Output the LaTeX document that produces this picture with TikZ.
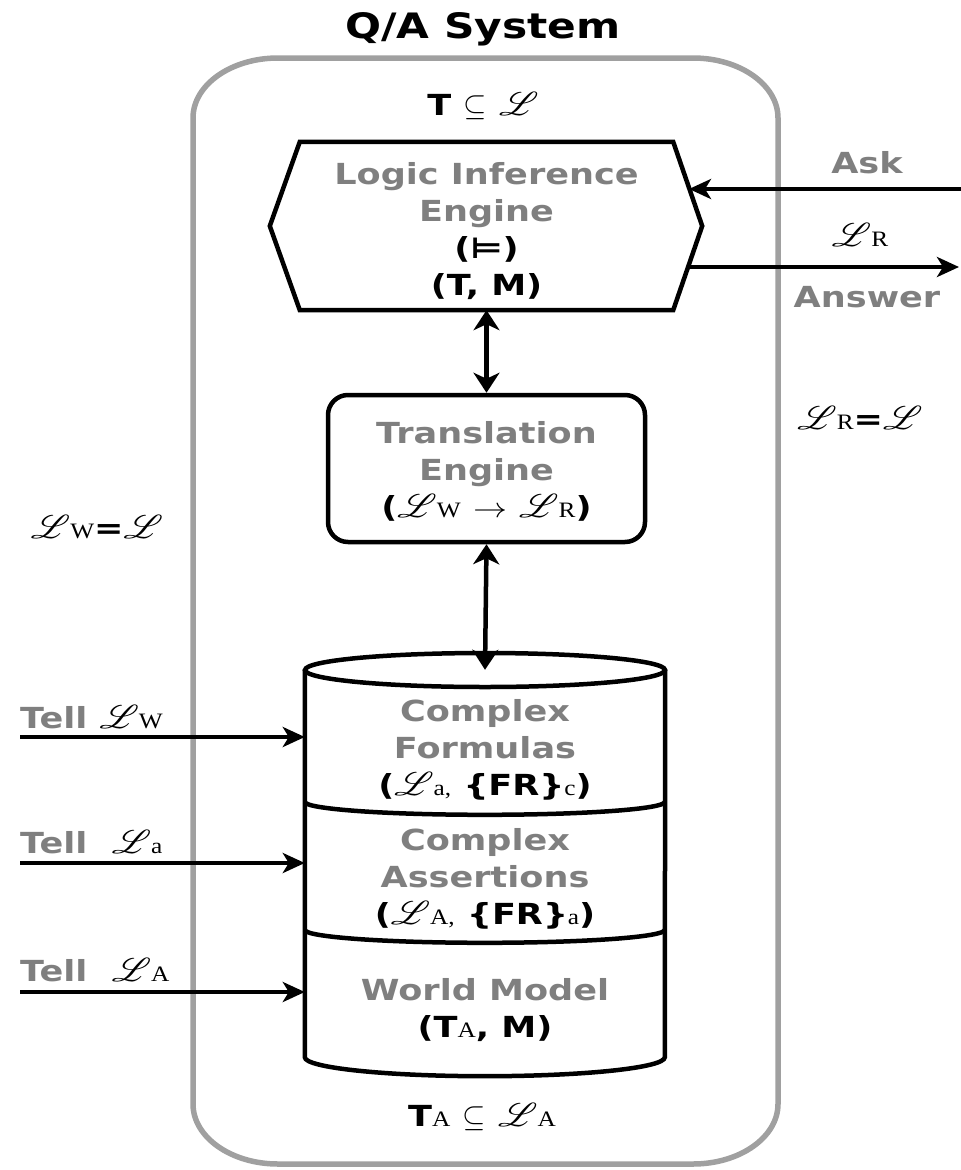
\documentclass[tikz,border=0pt]{standalone}
\usepackage{mathrsfs}
\usepackage{fontspec}
\newfontfamily\vbf{DejaVu Sans}[FakeStretch=1.21]
\newfontfamily\serf{Liberation Serif}[FakeStretch=1.15]
\usetikzlibrary{arrows.meta}

\definecolor{framegray}{HTML}{A0A0A0}
\definecolor{labelgray}{HTML}{7F7F7F}

% script L, inclusion and arrow symbols at a fixed scale
\newcommand\SL{\scalebox{3.7}[3.3]{\fontsize{10}{12}\selectfont$\mathscr{L}$}}
\newcommand\subs{\scalebox{3.0}[3.1]{\fontsize{10}{12}\selectfont$\subseteq$}}
\newcommand\toarr{\scalebox{3.4}[2.8]{\fontsize{10}{12}\selectfont$\rightarrow$}}
% small serif index letters
\newcommand\lo[1]{{\serf\mdseries\fontsize{22}{22}\selectfont #1}}
\newcommand\bigtxt{\vbf\bfseries\fontsize{29}{37}\selectfont}

\tikzset{
  lab/.style={font=\bigtxt, text=labelgray, align=center, inner sep=0pt},
  blk/.style={font=\bigtxt, text=black, align=center, inner sep=0pt},
  box/.style={draw=none, minimum width=#1, inner sep=0pt},
  edge/.style={line width=4.5pt, black},
  harrow/.style={line width=4.5pt, -{Stealth[length=22pt,width=20pt,inset=6pt]}},
  varrow/.style={line width=4.5pt, {Stealth[length=20pt,width=26pt,inset=6pt]}-{Stealth[length=20pt,width=26pt,inset=6pt]}},
}

\begin{document}
\begin{tikzpicture}[x=1pt, y=-1pt, line join=miter]
  \useasboundingbox (0,0) rectangle (961,1170);

  % outer system frame with elliptic corners
  \draw[framegray, line width=5.5pt]
    (278,58) -- (693,58)
    arc[start angle=270, end angle=360, x radius=85, y radius=60]
    -- (778,1104)
    arc[start angle=0, end angle=90, x radius=85, y radius=60]
    -- (278,1164)
    arc[start angle=90, end angle=180, x radius=85, y radius=60]
    -- (193,118)
    arc[start angle=180, end angle=270, x radius=85, y radius=60];

  \node[blk, font=\vbf\bfseries\fontsize{35}{38}\selectfont] (title) at (483,29) {Q/A System};
  \node[blk] (tset) at (483,106) {T \subs\ \SL};

  % logic inference engine (hexagon)
  \node[box=373pt, minimum height=168pt] (lie) at (486.5,226) {};
  \draw[edge] (lie.north west) -- (lie.north east) -- ([xshift=29pt]lie.east)
    -- (lie.south east) -- (lie.south west) -- ([xshift=-30pt]lie.west) -- cycle;
  \node[lab] (lietxt) at (486.5,231) {Logic Inference\\Engine\\\textcolor{black}{(⊨)}\\\textcolor{black}{(T, M)}};

  % translation engine
  \node[draw, edge, rounded corners=20pt, minimum width=317pt, minimum height=147pt, inner sep=0pt] (trans) at (486.5,468.5) {};
  \node[lab] (transtxt) at (486.5,471) {Translation\\Engine\\\textcolor{black}{(\SL\lo{W} \toarr\ \SL\lo{R})}};

  % knowledge base cylinder, three layers
  \node[box=360pt, minimum height=132pt] (db1) at (485,736) {};
  \node[box=360pt, minimum height=128pt] (db2) at (485,866) {};
  \node[box=360pt, minimum height=127pt] (db3) at (485,993.5) {};
  \draw[edge, fill=white] (db1.north west) -- (db3.south west)
    arc[start angle=180, end angle=0, x radius=180, y radius=19]
    -- (db1.north east);
  \draw[edge] (485,670) ellipse [x radius=180, y radius=17];
  \draw[edge] (db2.north west) arc[start angle=180, end angle=0, x radius=180, y radius=13];
  \draw[edge] (db3.north west) arc[start angle=180, end angle=0, x radius=180, y radius=13];

  \node[lab] (db1txt) at (485,750) {Complex\\Formulas\\\textcolor{black}{(\SL\lo{a}\lo{,} \{FR\}\lo{c})}};
  \node[lab] (db2txt) at (485,879) {Complex\\Assertions\\\textcolor{black}{(\SL\lo{A}\lo{,} \{FR\}\lo{a})}};
  \node[lab] (db3txt) at (485,1010) {World Model\\\textcolor{black}{(T\lo{A}, M)}};
  \node[blk] (taset) at (482,1117) {T\lo{A} \subs\ \SL\lo{A}};

  % vertical links
  \draw[varrow] (lie.south) -- (trans.north);
  \draw[varrow] (trans.south) -- (db1.north);

  % ask / answer on the right
  \coordinate (askin) at (961,189);
  \coordinate (askend) at (689,189);
  \coordinate (ansstart) at (688,267);
  \coordinate (ansout) at (959,267);
  \draw[harrow] (askin) -- (askend);
  \draw[harrow] (ansstart) -- (ansout);
  \node[lab] (ask) at (867,163) {Ask};
  \node[blk] (lr) at (860,235) {\SL\lo{R}};
  \node[lab] (answer) at (867,297) {Answer};
  \node[blk] (lreq) at (860,418) {\SL\lo{R}=\SL};
  \node[blk] (lweq) at (97,527) {\SL\lo{W}=\SL};

  % tell inputs on the left
  \coordinate (tw) at (20,737);
  \coordinate (ta) at (20,863);
  \coordinate (tA) at (20,992);
  \draw[harrow] (tw) -- (tw -| db1.west);
  \draw[harrow] (ta) -- (ta -| db2.west);
  \draw[harrow] (tA) -- (tA -| db3.west);
  \node[lab, anchor=west] (tellw) at (20,717) {Tell \textcolor{black}{\SL\lo{W}}};
  \node[lab, anchor=west] (tella) at (20,842) {Tell\ \ \textcolor{black}{\SL\lo{a}}};
  \node[lab, anchor=west] (tellA) at (20,970) {Tell\ \ \textcolor{black}{\SL\lo{A}}};
\end{tikzpicture}
\end{document}
